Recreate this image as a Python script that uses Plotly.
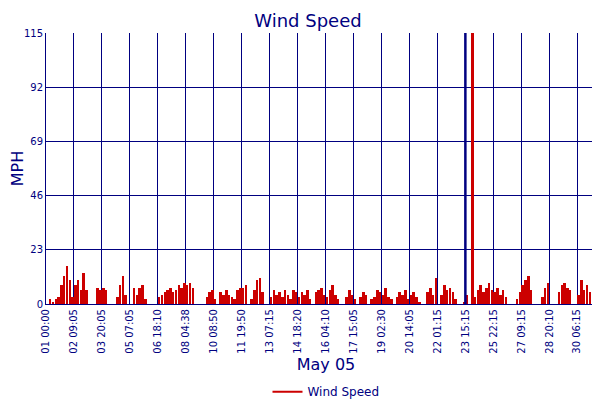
import plotly.graph_objects as go

wind = [0,2,1,2,3,8,12,16,10,3,
        8,10,6,13,6,0,0,0,7,6,
        7,6,0,0,0,3,8,12,4,0,
        0,7,4,7,8,2,0,0,0,0,
        3,4,5,6,7,5,6,8,7,9,
        8,9,7,0,0,0,0,3,5,6,
        2,0,5,4,6,4,3,2,6,7,
        7,8,0,2,6,10,11,5,0,0,
        3,6,4,5,3,6,4,2,6,5,
        3,5,4,6,2,0,5,6,7,4,
        3,6,8,4,2,0,0,3,6,4,
        2,0,3,5,4,0,2,3,6,5,
        4,7,3,2,0,3,5,4,6,2,
        4,5,3,1,0,0,5,7,4,11,
        0,4,8,6,7,5,2,0,0,1,
        4,0,115,3,6,8,5,7,9,6,
        5,7,4,6,3,0,0,0,2,5,
        8,10,12,6,0,0,0,3,7,9,
        0,0,0,5,8,9,7,6,0,0,
        4,10,6,8,5,0,0,0,3,6]
tick_labels = ["01 00:00","02 09:05","03 20:05","05 07:05","06 18:10","08 04:38",
               "10 08:50","11 19:50","13 07:15","14 18:20","16 04:10","17 15:05",
               "19 02:30","20 14:05","22 01:15","23 15:15","25 22:15","27 09:15",
               "28 20:10","30 06:15","31 12:20"]
y_ticks = [0,23,46,69,92,115]

navy = "#000080"
x = list(range(len(wind)))
tickvals = [i*10 - 0.5 for i in range(len(tick_labels))]

fig = go.Figure(go.Bar(x=x, y=wind, name="Wind Speed", marker=dict(color="#cc0000", line=dict(width=0)),
                       width=0.9, showlegend=False))
fig.add_trace(go.Scatter(x=[None], y=[None], mode="lines", name="Wind Speed",
                         line=dict(color="#cc0000", width=2)))
fig.add_shape(type="line", xref="x", yref="paper", x0=tickvals[15], x1=tickvals[15], y0=0, y1=1,
              line=dict(color=navy, width=2.5))
fig.add_shape(type="line", xref="x", yref="paper", x0=tickvals[20], x1=tickvals[20], y0=0, y1=1,
              line=dict(color=navy, width=3))
fig.update_layout(
    width=600, height=400, plot_bgcolor="white", paper_bgcolor="white",
    margin=dict(l=38, r=2, t=25, b=97),
    font=dict(family="DejaVu Sans", color=navy, size=10),
    title=dict(text="Wind Speed", x=0.5, xanchor="center", y=0.985, yanchor="top", font=dict(size=18, color=navy)),
    bargap=0,
    legend=dict(orientation="h", x=0.5, xanchor="center", y=-0.27, yanchor="top", font=dict(size=12)),
)
fig.update_xaxes(range=[-0.5, tickvals[20]+0.3], tickmode="array", tickvals=tickvals, ticktext=tick_labels,
                 tickangle=-90, showgrid=True, gridcolor=navy, gridwidth=1, linecolor=navy, showline=True,
                 automargin=False, title=dict(text="May 05", font=dict(size=16), standoff=6), ticks="")
fig.update_yaxes(range=[0,115], tickvals=y_ticks, showgrid=True, gridcolor=navy, gridwidth=1,
                 linecolor=navy, showline=True, mirror=True, zeroline=False, ticks="", automargin=False,
                 title=dict(text="MPH", font=dict(size=16), standoff=8))
fig.write_html("out.html")
